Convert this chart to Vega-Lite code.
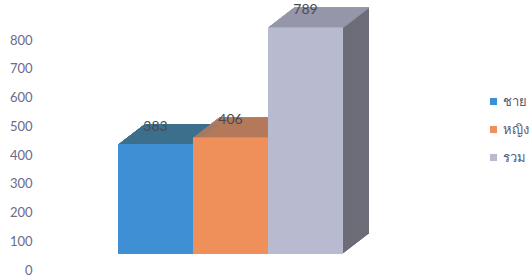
{
  "$schema": "https://vega.github.io/schema/vega-lite/v6.json",
  "autosize": {"type": "none"},
  "padding": {"left": 38, "top": 40, "right": 0, "bottom": 8},
  "width": 493,
  "height": 230,
  "background": "white",
  "config": {"view": {"stroke": null}, "font": "Lato", "axisY": {"labelOverlap": false, "labelBound": false}},
  "data": {"values": [
    {"s": "ชาย", "v": 383},
    {"s": "หญิง", "v": 406},
    {"s": "รวม", "v": 789}
  ]},
  "encoding": {
    "x": {"field": "s", "type": "nominal", "sort": ["ชาย", "หญิง", "รวม"], "axis": null,
          "scale": {"type": "band", "range": [80, 305], "paddingInner": 0, "paddingOuter": 0}},
    "y": {"field": "v", "type": "quantitative",
          "scale": {"domain": [0, 800]},
          "axis": {"values": [0, 100, 200, 300, 400, 500, 600, 700, 800], "grid": false, "domain": false,
                   "ticks": false, "tickSize": 0, "labelPadding": 6, "title": null,
                   "labelOverlap": false, "labelBound": false,
                   "labelColor": "#6a6a8a", "labelFontSize": 13, "labelFont": "Lato"}}
  },
  "layer": [
    {"layer": [
      {"mark": {"type": "bar", "xOffset": 26, "yOffset": -36, "y2Offset": -36}},
      {"mark": {"type": "bar", "xOffset": 24.7, "yOffset": -35, "y2Offset": -35}},
      {"mark": {"type": "bar", "xOffset": 23.4, "yOffset": -34, "y2Offset": -34}},
      {"mark": {"type": "bar", "xOffset": 22.1, "yOffset": -33, "y2Offset": -33}},
      {"mark": {"type": "bar", "xOffset": 20.8, "yOffset": -32, "y2Offset": -32}},
      {"mark": {"type": "bar", "xOffset": 19.5, "yOffset": -31, "y2Offset": -31}},
      {"mark": {"type": "bar", "xOffset": 18.2, "yOffset": -30, "y2Offset": -30}},
      {"mark": {"type": "bar", "xOffset": 16.9, "yOffset": -29, "y2Offset": -29}},
      {"mark": {"type": "bar", "xOffset": 15.6, "yOffset": -28, "y2Offset": -28}},
      {"mark": {"type": "bar", "xOffset": 14.3, "yOffset": -27, "y2Offset": -27}},
      {"mark": {"type": "bar", "xOffset": 13, "yOffset": -26, "y2Offset": -26}},
      {"mark": {"type": "bar", "xOffset": 11.7, "yOffset": -25, "y2Offset": -25}},
      {"mark": {"type": "bar", "xOffset": 10.4, "yOffset": -24, "y2Offset": -24}},
      {"mark": {"type": "bar", "xOffset": 9.1, "yOffset": -23, "y2Offset": -23}},
      {"mark": {"type": "bar", "xOffset": 7.8, "yOffset": -22, "y2Offset": -22}},
      {"mark": {"type": "bar", "xOffset": 6.5, "yOffset": -21, "y2Offset": -21}},
      {"mark": {"type": "bar", "xOffset": 5.2, "yOffset": -20, "y2Offset": -20}},
      {"mark": {"type": "bar", "xOffset": 3.9, "yOffset": -19, "y2Offset": -19}},
      {"mark": {"type": "bar", "xOffset": 2.6, "yOffset": -18, "y2Offset": -18}},
      {"mark": {"type": "bar", "xOffset": 1.3, "yOffset": -17, "y2Offset": -17}}
    ],
     "encoding": {
       "y2": {"datum": 0},
       "fill": {"condition": [
         {"test": "datum.s === 'ชาย'", "value": "#2d6189"},
         {"test": "datum.s === 'หญิง'", "value": "#a9653f"}
       ], "value": "#6d6d78"}
     }
    },
    {"layer": [
      {"mark": {"type": "bar", "xOffset": 26, "yOffset": -36, "y2Offset": -34.7}},
      {"mark": {"type": "bar", "xOffset": 24.7, "yOffset": -35, "y2Offset": -33.7}},
      {"mark": {"type": "bar", "xOffset": 23.4, "yOffset": -34, "y2Offset": -32.7}},
      {"mark": {"type": "bar", "xOffset": 22.1, "yOffset": -33, "y2Offset": -31.7}},
      {"mark": {"type": "bar", "xOffset": 20.8, "yOffset": -32, "y2Offset": -30.7}},
      {"mark": {"type": "bar", "xOffset": 19.5, "yOffset": -31, "y2Offset": -29.7}},
      {"mark": {"type": "bar", "xOffset": 18.2, "yOffset": -30, "y2Offset": -28.7}},
      {"mark": {"type": "bar", "xOffset": 16.9, "yOffset": -29, "y2Offset": -27.7}},
      {"mark": {"type": "bar", "xOffset": 15.6, "yOffset": -28, "y2Offset": -26.7}},
      {"mark": {"type": "bar", "xOffset": 14.3, "yOffset": -27, "y2Offset": -25.7}},
      {"mark": {"type": "bar", "xOffset": 13, "yOffset": -26, "y2Offset": -24.7}},
      {"mark": {"type": "bar", "xOffset": 11.7, "yOffset": -25, "y2Offset": -23.7}},
      {"mark": {"type": "bar", "xOffset": 10.4, "yOffset": -24, "y2Offset": -22.7}},
      {"mark": {"type": "bar", "xOffset": 9.1, "yOffset": -23, "y2Offset": -21.7}},
      {"mark": {"type": "bar", "xOffset": 7.8, "yOffset": -22, "y2Offset": -20.7}},
      {"mark": {"type": "bar", "xOffset": 6.5, "yOffset": -21, "y2Offset": -19.7}},
      {"mark": {"type": "bar", "xOffset": 5.2, "yOffset": -20, "y2Offset": -18.7}},
      {"mark": {"type": "bar", "xOffset": 3.9, "yOffset": -19, "y2Offset": -17.7}},
      {"mark": {"type": "bar", "xOffset": 2.6, "yOffset": -18, "y2Offset": -16.7}},
      {"mark": {"type": "bar", "xOffset": 1.3, "yOffset": -17, "y2Offset": -15.7}}
    ],
     "encoding": {
       "y2": {"field": "v"},
       "fill": {"condition": [
         {"test": "datum.s === 'ชาย'", "value": "#3c6f8c"},
         {"test": "datum.s === 'หญิง'", "value": "#b67b5f"}
       ], "value": "#9d9db2"}
     }
    },
    {"mark": {"type": "bar", "yOffset": -16, "y2Offset": -16},
     "encoding": {
       "y2": {"datum": 0},
       "color": {"field": "s", "type": "nominal", "sort": ["ชาย", "หญิง", "รวม"],
                 "scale": {"domain": ["ชาย", "หญิง", "รวม"], "range": ["#3f8fd4", "#ef905b", "#b8bacf"]},
                 "legend": {"title": null, "orient": "none", "legendX": 449, "legendY": 55,
                            "symbolType": "square", "symbolSize": 50, "labelFontSize": 13,
                            "labelColor": "#5a5a70", "rowPadding": 14, "labelOffset": 3,
                            "symbolStrokeWidth": 0}}
     }
    },
    {"mark": {"type": "text", "yOffset": -33, "baseline": "middle", "fontSize": 14, "font": "Lato", "color": "#4a4a55"},
     "encoding": {
       "text": {"field": "v", "type": "quantitative"}
     }
    }
  ]
}
